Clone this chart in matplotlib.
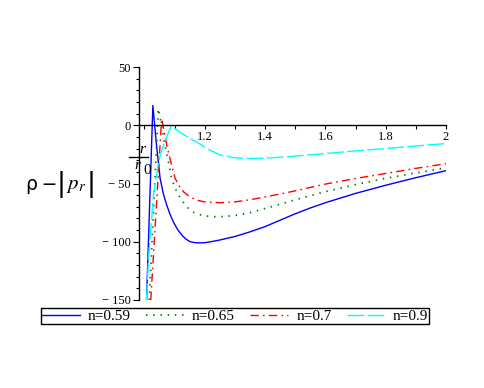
import matplotlib
matplotlib.use("Agg")
import matplotlib.pyplot as plt
from matplotlib.lines import Line2D
from matplotlib.ticker import FixedLocator, MultipleLocator

plt.rcParams['font.family'] = ['Liberation Serif', 'DejaVu Serif']
plt.rcParams['mathtext.fontset'] = 'stix'

# ---- data ----
labels = ["n=0.59", "n=0.65", "n=0.7", "n=0.9"]

x_059 = [1.007, 1.028, 1.040, 1.052, 1.063, 1.074, 1.085, 1.096, 1.110, 1.124, 1.138,
         1.152, 1.168, 1.185, 1.200, 1.220, 1.250, 1.300, 1.350, 1.400, 1.450, 1.500,
         1.550, 1.600, 1.700, 1.800, 1.900, 2.000]
y_059 = [-150, 17, -17, -45.7, -59, -68.6, -76.5, -83, -89.5, -94.3, -97.8,
         -100, -100.8, -101, -100.8, -100, -98.5, -95.5, -91.5, -87, -81.5, -76,
         -71, -66.5, -58.5, -51.5, -45, -39]

x_065 = [1.016, 1.046, 1.057, 1.068, 1.080, 1.090, 1.100, 1.113, 1.130, 1.146, 1.165,
         1.190, 1.220, 1.250, 1.300, 1.350, 1.400, 1.450, 1.500, 1.600, 1.700, 1.800,
         1.900, 2.000]
y_065 = [-150, 14.3, 0, -17, -32, -45.7, -53, -60, -66.5, -71.5, -75,
         -77.3, -78.4, -78.6, -77.5, -75, -71.5, -67.8, -64, -57, -51, -45.5,
         -41, -36.5]

x_07 = [1.021, 1.057, 1.066, 1.074, 1.088, 1.102, 1.115, 1.130, 1.150, 1.174, 1.200,
        1.250, 1.300, 1.350, 1.400, 1.450, 1.500, 1.600, 1.700, 1.800, 1.900, 2.000]
y_07 = [-150, 5.5, -6, -17, -32, -45.7, -52, -57.2, -61.3, -64.3, -65.8,
        -66.5, -65.8, -64, -61.5, -59, -56.3, -50.5, -45.7, -41.4, -37, -33]

x_09 = [1.007, 1.013, 1.030, 1.045, 1.052, 1.070, 1.090, 1.100, 1.120, 1.152, 1.180,
        1.207, 1.250, 1.300, 1.350, 1.400, 1.500, 1.600, 1.700, 1.800, 1.900, 2.000]
y_09 = [-150, -116, -60, -35, -26, -12, 0, -2.5, -6.5, -11.4, -15.5,
        -20, -25.5, -28, -28.6, -28.3, -26.5, -24.3, -22, -20, -17.8, -15.7]

x_major = [1.2, 1.4, 1.6, 1.8, 2.0]
x_major_labels = ["1.2", "1.4", "1.6", "1.8", "2"]
x_minor = [1.0, 1.1, 1.3, 1.5, 1.7, 1.9]
y_major = [50, 0, -50, -100, -150]
y_major_labels = ["50", "0", "\u2212 50", "\u2212 100", "\u2212 150"]

# ---- figure ----
W, H = 485, 388
fig = plt.figure(figsize=(W / 100, H / 100), dpi=100)
ax = fig.add_axes([139 / W, 1 - 300 / H, (446 - 139) / W, (300 - 67) / H])
ax.set_xlim(0.982, 2.0)
ax.set_ylim(-150, 50)

lw = 1.0
ax.plot(x_059, y_059, color='#0000ff', lw=lw, label=labels[0])
ax.plot(x_065, y_065, color='#008000', lw=1.3, dashes=(0.8, 3.2), label=labels[1])
ax.plot(x_07, y_07, color='#ff0000', lw=lw, dashes=(6, 3, 1.2, 3), label=labels[2])
ax.plot(x_09, y_09, color='#00ffff', lw=lw, dashes=(12, 2.5), label=labels[3])

for s in ['top', 'right']:
    ax.spines[s].set_visible(False)
ax.spines['bottom'].set_position(('data', 0))
ax.spines['left'].set_linewidth(1.0)
ax.spines['bottom'].set_linewidth(1.0)

ax.xaxis.set_major_locator(FixedLocator(x_major))
ax.set_xticklabels(x_major_labels)
ax.xaxis.set_minor_locator(FixedLocator(x_minor))
ax.yaxis.set_major_locator(FixedLocator(y_major))
ax.set_yticklabels(y_major_labels)
ax.yaxis.set_minor_locator(MultipleLocator(10))

ax.tick_params(axis='x', which='major', direction='out', length=3, width=0.8,
               labelsize=9, pad=1.5)
ax.tick_params(axis='x', which='minor', direction='out', length=3, width=0.8)
ax.tick_params(axis='y', which='major', direction='out', length=4, width=0.8,
               labelsize=9, pad=2)
ax.tick_params(axis='y', which='minor', direction='out', length=2.5, width=0.8)

# x-axis label r / r0 (fraction, as in the reference)
fig.text(142 / W, 1 - 150 / H, 'r', fontsize=11, style='italic', ha='center', va='center')
fig.add_artist(Line2D([129 / W, 148 / W], [1 - 157 / H, 1 - 157 / H],
                      color='black', lw=1.0, transform=fig.transFigure))
fig.text(137 / W, 1 - 165 / H, 'r', fontsize=11, style='italic', ha='center', va='center')
fig.text(147 / W, 1 - 171 / H, '0', fontsize=11, ha='center', va='center')

# y-axis label  rho - |p_r|
yl = 1 - 184 / H
fig.text(57 / W, yl, '\u03c1\u2009\u2212', fontsize=13.5, family='DejaVu Sans',
         ha='right', va='center')
fig.text(61.5 / W, yl, '|', fontsize=19, family='DejaVu Sans', ha='center', va='center')
fig.text(76.5 / W, yl - 0.004, r'$p_r$', fontsize=15, ha='center', va='center')
fig.text(91 / W, yl, '|', fontsize=19, family='DejaVu Sans', ha='center', va='center')

leg = ax.legend(loc='center', bbox_to_anchor=((33 + 437) / 2 / W, 1 - 316 / H),
                bbox_transform=fig.transFigure, ncol=4, fontsize=11,
                frameon=True, fancybox=False, edgecolor='black', framealpha=1,
                borderpad=0.1, handlelength=2.5, handletextpad=0.5,
                columnspacing=1.0, borderaxespad=0)
leg.get_frame().set_linewidth(1.0)

fig.savefig('out.png', dpi=100)
